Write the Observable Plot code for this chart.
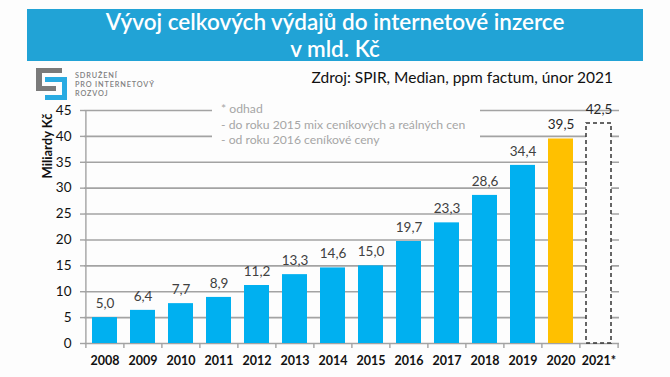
<!DOCTYPE html>
<html>
<head>
<meta charset="utf-8">
<script src="https://cdn.jsdelivr.net/npm/d3@7"></script>
<script src="https://cdn.jsdelivr.net/npm/@observablehq/plot@0.6"></script>
<style>
  html, body { margin: 0; padding: 0; background: #fff; }
  #wrap { position: relative; width: 670px; height: 377px; overflow: hidden; background: #fdfdfd; font-family: Lato, "Open Sans", sans-serif; }
  #title { position: absolute; left: 27px; top: 9px; width: 616px; height: 52px; background: #21A3D6; color: #fff; text-align: center; font-size: 22.5px; font-weight: 600; line-height: 27px; overflow: hidden; }
  #title div { position: relative; top: -1px; }
  #source { position: absolute; right: 57px; top: 68px; font-size: 15.5px; color: #111; white-space: nowrap; }
  #logo { position: absolute; left: 35px; top: 67px; }
  #logotext { position: absolute; left: 75px; top: 71px; font-size: 7.3px; line-height: 9px; letter-spacing: 0.85px; color: #808080; font-family: Lato, sans-serif; font-weight: 600; }
  #chart { position: absolute; left: 0; top: 95px; }
  #note { position: absolute; left: 212px; top: 101px; width: 259px; height: 51px; background: #fdfdfd; color: #A6A6A6; font-size: 12.2px; line-height: 15.5px; padding-left: 9px; z-index: 2; }
  #ylabel { position: absolute; left: 47px; top: 146px; transform: translate(-50%, -50%) rotate(-90deg); font-size: 13px; font-weight: 700; color: #111; white-space: nowrap; }
</style>
</head>
<body>
<div id="wrap">
  <div id="title"><div>Vývoj celkových výdajů do internetové inzerce<br>v mld. Kč</div></div>
  <svg id="logo" width="34" height="34">
    <rect x="1" y="1" width="26" height="5" fill="#7a7a7a"/>
    <rect x="1" y="1" width="6" height="23" fill="#7a7a7a"/>
    <rect x="1" y="19" width="20" height="5" fill="#7a7a7a"/>
    <rect x="10" y="10" width="22" height="5" fill="#29ABE2"/>
    <rect x="27" y="10" width="5" height="23" fill="#29ABE2"/>
    <rect x="10" y="28" width="22" height="5" fill="#29ABE2"/>
  </svg>
  <div id="logotext">SDRUŽENÍ<br>PRO INTERNETOVÝ<br>ROZVOJ</div>
  <div id="source">Zdroj: SPIR, Median, ppm factum, únor 2021</div>
  <div id="chart"></div>
  <div id="note">* odhad<br>- do roku 2015 mix ceníkových a reálných cen<br>- od roku 2016 ceníkové ceny</div>
  <div id="ylabel">Miliardy Kč</div>
</div>
<script>
// ---- data ----
const years = ["2008","2009","2010","2011","2012","2013","2014","2015","2016","2017","2018","2019","2020","2021*"];
const values = [5.0, 6.4, 7.7, 8.9, 11.2, 13.3, 14.6, 15.0, 19.7, 23.3, 28.6, 34.4, 39.5, 42.5];
const status = ["actual","actual","actual","actual","actual","actual","actual","actual","actual","actual","actual","actual","latest","estimate"];
const yTicks = [0, 5, 10, 15, 20, 25, 30, 35, 40, 45];

const data = years.map((y, i) => ({year: y, value: values[i], status: status[i]}));
const fmt = v => v.toFixed(1).replace(".", ",");

const W = 670, H = 280, mL = 84, mR = 51, mT = 15, mB = 32;
const step = (W - mL - mR) / years.length;
const grid = "#a3a3a3";

const hasAxisMarks = typeof Plot.axisY === "function";

const marks = [
  Plot.ruleY(yTicks, {stroke: grid, strokeWidth: 1.6}),
  Plot.ruleX([years[0]], {y1: 0, y2: 45, dx: -step / 2, stroke: grid, strokeWidth: 1.4}),
  Plot.ruleX(years, {y1: 0, y2: 0, insetBottom: -5, dx: -step / 2, stroke: grid, strokeWidth: 1.4}),
  Plot.ruleX([years[years.length - 1]], {y1: 0, y2: 0, insetBottom: -5, dx: step / 2, stroke: grid, strokeWidth: 1.4})
];
if (hasAxisMarks) {
  marks.push(
    Plot.axisY({ticks: yTicks, tickSize: 4, tickPadding: 9, fontSize: 13.5, stroke: grid, strokeWidth: 1.4, fill: "#111", label: null}),
    Plot.axisX({tickSize: 0, tickPadding: 13, fontSize: 12.5, fontWeight: 700, fill: "#111", label: null})
  );
}
marks.push(
  Plot.barY(data.filter(d => d.status !== "estimate"), {
    x: "year", y: "value",
    fill: d => d.status === "latest" ? "#FFC000" : "#00B0F0"
  }),
  Plot.barY(data.filter(d => d.status === "estimate"), {
    x: "year", y: "value", fill: "#fdfdfd", stroke: "#333", strokeWidth: 1.5, strokeDasharray: "4,3"
  }),
  Plot.text(data, {
    x: "year", y: "value", dy: -14, text: d => fmt(d.value), fontSize: 13.5,
    fill: d => d.status === "actual" ? "#404040" : "#262626",
    fontWeight: d => d.status === "latest" ? 700 : 400,
    fontStyle: d => d.status === "estimate" ? "italic" : "normal"
  })
);

const xOpts = {domain: years, paddingInner: 0.34, paddingOuter: 0.17, label: null};
const yOpts = {domain: [0, 45], label: null};
if (!hasAxisMarks) {
  Object.assign(xOpts, {tickSize: 0, tickPadding: 13});
  Object.assign(yOpts, {ticks: yTicks, tickSize: 4, tickPadding: 9});
}

const plot = Plot.plot({
  width: W, height: H,
  marginLeft: mL, marginRight: mR, marginTop: mT, marginBottom: mB,
  style: {background: "transparent", fontFamily: "Lato, 'Open Sans', sans-serif", fontSize: "13px", color: "#111"},
  x: xOpts,
  y: yOpts,
  marks
});
document.getElementById("chart").appendChild(plot);
</script>
</body>
</html>
